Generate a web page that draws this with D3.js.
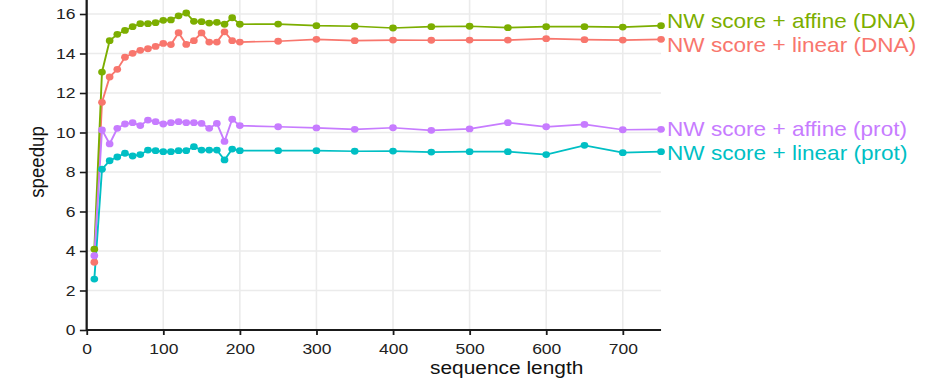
<!DOCTYPE html>
<html>
<head>
<meta charset="utf-8">
<script src="https://cdn.jsdelivr.net/npm/d3@7"></script>
<style>
  html, body { margin: 0; padding: 0; background: #fff; }
  svg { display: block; }
  text { font-family: "Liberation Sans", Arial, Helvetica, sans-serif; }
</style>
</head>
<body>
<svg id="chart"></svg>
<script>
// ---------- data ----------
const seqLength = [10, 20, 30, 40, 50, 60, 70, 80, 90, 100, 110, 120, 130, 140, 150, 160, 170, 180, 190, 200,
                   250, 300, 350, 400, 450, 500, 550, 600, 650, 700, 750];
const seriesNames = ["NW score + linear (DNA)", "NW score + affine (DNA)", "NW score + linear (prot)", "NW score + affine (prot)"];
const linearDNA = [3.43, 11.53, 12.81, 13.20, 13.81, 14.01, 14.16, 14.24, 14.36, 14.51, 14.45, 15.05, 14.46, 14.65, 15.04, 14.58, 14.58, 15.10, 14.65, 14.58,
                   14.62, 14.72, 14.65, 14.68, 14.67, 14.68, 14.68, 14.75, 14.70, 14.68, 14.72];
const affineDNA = [4.09, 13.06, 14.65, 14.97, 15.17, 15.36, 15.51, 15.51, 15.56, 15.68, 15.70, 15.91, 16.05, 15.63, 15.61, 15.54, 15.58, 15.48, 15.81, 15.48,
                   15.49, 15.41, 15.38, 15.29, 15.36, 15.38, 15.31, 15.36, 15.36, 15.34, 15.41];
const linearProt = [2.58, 8.14, 8.57, 8.76, 8.95, 8.81, 8.88, 9.11, 9.08, 9.03, 9.03, 9.08, 9.08, 9.28, 9.11, 9.11, 9.11, 8.61, 9.16, 9.08,
                    9.08, 9.08, 9.05, 9.06, 9.01, 9.03, 9.03, 8.88, 9.35, 8.98, 9.03];
const affineProt = [3.76, 10.13, 9.42, 10.21, 10.43, 10.50, 10.35, 10.63, 10.55, 10.43, 10.50, 10.55, 10.50, 10.50, 10.46, 10.21, 10.46, 9.55, 10.67, 10.35,
                    10.29, 10.23, 10.16, 10.24, 10.11, 10.18, 10.50, 10.29, 10.41, 10.14, 10.16];
const seriesColors = ["#F8766D", "#7CAE00", "#00BFC4", "#C77CFF"];
const xTicks = [0, 100, 200, 300, 400, 500, 600, 700];
const yTicks = [0, 2, 4, 6, 8, 10, 12, 14, 16];
const xTitle = "sequence length";
const yTitle = "speedup";

// ---------- layout ----------
const W = 944, H = 380;
const stretch = 1.13;               // reference is horizontally stretched
const iw = W / stretch;             // internal width
const svg = d3.select("#chart")
  .attr("width", W).attr("height", H)
  .attr("viewBox", `0 0 ${iw} ${H}`)
  .attr("preserveAspectRatio", "none");

const plotL = 76.7, plotR = 585, plotB = 330, plotT = 0;
const x = d3.scaleLinear().domain([0, 750]).range([plotL, plotR]);
const y = d3.scaleLinear().domain([0, 16]).range([plotB, 14]);

const allSeries = [linearDNA, affineDNA, linearProt, affineProt].map((vals, i) => ({
  name: seriesNames[i], color: seriesColors[i],
  points: seqLength.map((s, j) => ({ x: s, y: vals[j] }))
}));

// grid
const grid = svg.append("g");
grid.selectAll("line.v").data(xTicks).join("line")
  .attr("x1", d => x(d)).attr("x2", d => x(d))
  .attr("y1", plotT).attr("y2", plotB)
  .attr("stroke", "#EBEBEB").attr("stroke-width", 1.4);
grid.selectAll("line.h").data(yTicks).join("line")
  .attr("x1", plotL).attr("x2", plotR)
  .attr("y1", d => y(d)).attr("y2", d => y(d))
  .attr("stroke", "#EBEBEB").attr("stroke-width", 1.4);

// lines + points
const line = d3.line().x(d => x(d.x)).y(d => y(d.y));
const gS = svg.append("g");
allSeries.forEach(s => {
  gS.append("path").datum(s.points)
    .attr("d", line).attr("fill", "none")
    .attr("stroke", s.color).attr("stroke-width", 1.7);
});
allSeries.forEach(s => {
  gS.selectAll(null).data(s.points).join("circle")
    .attr("cx", d => x(d.x)).attr("cy", d => y(d.y)).attr("r", 3.4)
    .attr("fill", s.color);
});

// axes
const xAxis = svg.append("g").attr("transform", `translate(0,${plotB})`)
  .call(d3.axisBottom(x).tickValues(xTicks).tickSize(5).tickPadding(8).tickSizeOuter(0));
const yAxis = svg.append("g").attr("transform", `translate(${plotL},0)`)
  .call(d3.axisLeft(y).tickValues(yTicks).tickSize(6).tickPadding(4).tickSizeOuter(0));
[xAxis, yAxis].forEach(a => {
  a.select(".domain").attr("stroke", "#1a1a1a").attr("stroke-width", 2);
  a.selectAll(".tick line").attr("stroke", "#1a1a1a").attr("stroke-width", 1.6);
  a.selectAll(".tick text").attr("fill", "#222").style("font-size", "15.5px");
});
xAxis.select(".domain").attr("d", `M${plotL},0H${plotR}`);
yAxis.select(".domain").attr("d", `M0,${plotB + 1}V${plotT}`);

// titles
svg.append("text").attr("x", 448.4).attr("y", 374.5)
  .attr("text-anchor", "middle").style("font-size", "18.5px").attr("fill", "#111")
  .text(xTitle);
svg.append("text").attr("transform", `translate(38.5,162) rotate(-90)`)
  .attr("text-anchor", "middle").style("font-size", "18.7px").attr("fill", "#111")
  .text(yTitle);

// direct labels at the last point, spread apart to avoid overlap
const labels = allSeries.map(s => ({ name: s.name, color: s.color, y: y(s.points[s.points.length - 1].y) }))
  .sort((a, b) => a.y - b.y);
const minGap = 23.8;
for (let iter = 0; iter < 50; iter++) {
  for (let i = 1; i < labels.length; i++) {
    const gap = labels[i].y - labels[i - 1].y;
    if (gap < minGap) {
      const push = (minGap - gap) / 2;
      labels[i - 1].y -= push; labels[i].y += push;
    }
  }
}
svg.append("g").selectAll("text").data(labels).join("text")
  .attr("x", plotR + 5.3).attr("y", d => d.y).attr("dy", "0.36em")
  .style("font-size", "20px").attr("fill", d => d.color)
  .text(d => d.name);
</script>
</body>
</html>
